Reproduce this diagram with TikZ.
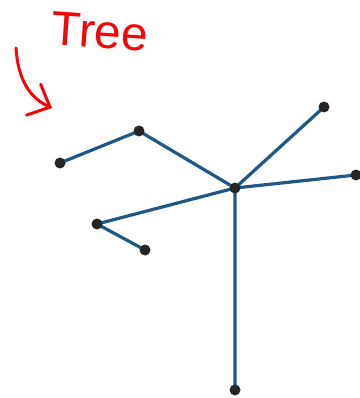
\documentclass[tikz,border=0pt]{standalone}
\usepackage{fontspec}
\usetikzlibrary{arrows.meta,backgrounds}
\newfontfamily\handfont{Liberation Sans}
\definecolor{edgeblue}{RGB}{33,87,132}
\definecolor{pen}{RGB}{240,8,8}

\begin{document}
\begin{tikzpicture}[x=1pt,y=-1pt,
  vtx/.style={circle,fill=black!85,inner sep=0pt,minimum size=11pt},
  link/.style={edgeblue,line width=3.2pt},
  ink/.style={pen,line width=3pt,line cap=round}]
\useasboundingbox (0,0) rectangle (359,398);
% tree
\node[vtx] (L1) at (60,163) {};
\node[vtx] (L2) at (139,131) {};
\node[vtx] (C) at (235,188) {};
\node[vtx] (R1) at (324,107) {};
\node[vtx] (R2) at (356,175) {};
\node[vtx] (M1) at (97,224) {};
\node[vtx] (M2) at (145,250) {};
\node[vtx] (B) at (235,390) {};
\begin{scope}[on background layer]
\draw[link] (L1.center)--(L2.center) (L2.center)--(C.center) (C.center)--(R1.center)
  (C.center)--(R2.center) (C.center)--(M1.center) (M1.center)--(M2.center) (C.center)--(B.center);
\end{scope}
% note
\node[pen,font=\handfont\fontsize{48}{48}\selectfont,rotate=-4] (tag) at (100,32) {Tree};
\coordinate (tail) at (16,48);
\coordinate (tip) at (52,108);
\draw[ink,-{Straight Barb[length=18pt,width=34pt,line cap=round]}] (tail) .. controls (18,80) and (30,98) .. (tip);
\end{tikzpicture}
\end{document}
